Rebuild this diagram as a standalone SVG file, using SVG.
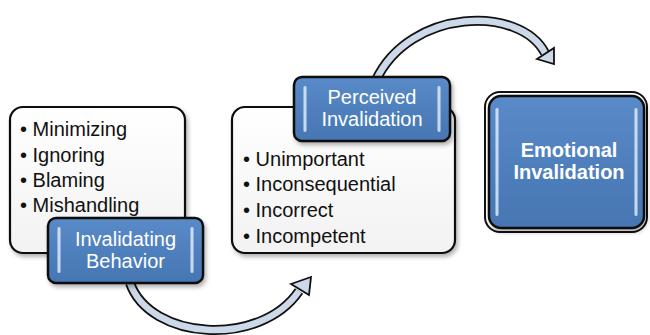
<svg xmlns="http://www.w3.org/2000/svg" width="650" height="335" viewBox="0 0 650 335">
<defs>
<linearGradient id="wg" x1="0" y1="0" x2="0" y2="1">
<stop offset="0" stop-color="#ffffff"/><stop offset="1" stop-color="#f2f2f2"/>
</linearGradient>
<linearGradient id="bg" x1="0" y1="0" x2="0" y2="1">
<stop offset="0" stop-color="#5a8bc8"/><stop offset="0.5" stop-color="#4f80bd"/><stop offset="1" stop-color="#4676b2"/>
</linearGradient>
<linearGradient id="hl" x1="0" y1="0" x2="1" y2="0">
<stop offset="0" stop-color="#ffffff" stop-opacity="0.2"/><stop offset="0.5" stop-color="#e6f2ff" stop-opacity="0.95"/><stop offset="1" stop-color="#ffffff" stop-opacity="0.2"/>
</linearGradient>
<filter id="sh" x="-10%" y="-10%" width="120%" height="130%">
<feDropShadow dx="2" dy="3" stdDeviation="2" flood-color="#000" flood-opacity="0.3"/>
</filter>
<style>
.wbox{fill:url(#wg);stroke:#111;stroke-width:2.2;filter:url(#sh)}
.bbox{fill:url(#bg);stroke:#111;stroke-width:2.5;filter:url(#sh)}
.hl{fill:url(#hl)}
.list{font-family:"Liberation Sans",Arial,sans-serif;font-size:20px;fill:#111}
.btxt{font-family:"Liberation Sans",Arial,sans-serif;font-size:20px;fill:#fff;text-anchor:middle}
.etxt{font-family:"Liberation Sans",Arial,sans-serif;font-size:20px;font-weight:bold;fill:#fff;text-anchor:middle}
.aout{fill:none;stroke:#111;stroke-width:10}
.ain{fill:none;stroke:#cdd8e8;stroke-width:6.5}
.ahead{fill:#cdd8e8;stroke:#111;stroke-width:1.8;stroke-linejoin:miter}
</style>
</defs>
<g id="connectors">
<path class="aout" d="M130 283 C150 340 260 348 299 291"/>
<path class="ain" d="M130 283 C150 340 260 348 299 291"/>
<polygon class="ahead" points="291,284 311,277 309,295"/>
<path class="aout" d="M376 80 C410 8 520 5 545 53"/>
<path class="ain" d="M376 80 C410 8 520 5 545 53"/>
<polygon class="ahead" points="537,59 554,48 554,64"/>
</g>
<g id="node-behaviors">
<rect class="wbox" x="10" y="107" width="175" height="146" rx="13"/>
<text class="list" x="20" y="136">• Minimizing</text>
<text class="list" x="20" y="162">• Ignoring</text>
<text class="list" x="20" y="187">• Blaming</text>
<text class="list" x="20" y="212">• Mishandling</text>
</g>
<g id="node-invalidating-behavior">
<rect class="bbox" x="48" y="218" width="155" height="65" rx="8"/>
<rect class="hl" x="57" y="227" width="4" height="46" rx="2"/>
<rect class="hl" x="190" y="227" width="4" height="46" rx="2"/>
<text class="btxt" x="125.5" y="246">Invalidating</text>
<text class="btxt" x="125.5" y="268">Behavior</text>
</g>
<g id="node-perceptions">
<rect class="wbox" x="232" y="107" width="223" height="146" rx="13"/>
<text class="list" x="243" y="166">• Unimportant</text>
<text class="list" x="243" y="191">• Inconsequential</text>
<text class="list" x="243" y="217">• Incorrect</text>
<text class="list" x="243" y="243">• Incompetent</text>
</g>
<g id="node-perceived-invalidation">
<rect class="bbox" x="294" y="77" width="156" height="64" rx="8"/>
<rect class="hl" x="303" y="86" width="4" height="46" rx="2"/>
<rect class="hl" x="437" y="86" width="4" height="46" rx="2"/>
<text class="btxt" x="372" y="104">Perceived</text>
<text class="btxt" x="372" y="126">Invalidation</text>
</g>
<g id="node-emotional-invalidation">
<rect x="485" y="92" width="162" height="140" rx="15" fill="#fff" stroke="#111" stroke-width="2"/>
<rect class="bbox" x="489" y="96" width="155" height="132" rx="12"/>
<rect class="hl" x="495" y="108" width="4" height="108" rx="2"/>
<rect class="hl" x="634" y="108" width="4" height="108" rx="2"/>
<text class="etxt" x="569" y="157">Emotional</text>
<text class="etxt" x="569" y="179">Invalidation</text>
</g>
</svg>
